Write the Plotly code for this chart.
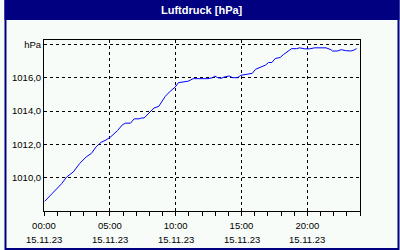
import plotly.graph_objects as go

# time in hours since 15.11.23 00:00
hours = [0.05, 0.35, 0.60, 0.97, 1.34, 1.72, 2.22, 2.71, 3.21, 3.59, 3.96, 4.33, 4.71,
         5.08, 5.58, 5.95, 6.20, 6.57, 6.85, 7.22, 7.40, 7.60, 7.84, 8.09, 8.35, 8.72,
         8.97, 9.21, 9.59, 9.96, 10.21, 10.71, 10.96, 11.33, 12.08, 12.45, 12.83, 12.95,
         13.20, 13.45, 13.69, 14.07, 14.32, 14.70, 14.94, 15.32, 15.82, 16.06, 16.44,
         16.81, 17.06, 17.31, 17.56, 17.93, 18.18, 18.48, 18.68, 18.80, 19.18, 19.42,
         19.80, 20.17, 20.55, 21.42, 21.79, 21.91, 22.29, 22.58, 22.91, 23.29, 23.53, 23.74]
pressure = [1008.58, 1008.82, 1009.03, 1009.29, 1009.64, 1010.04, 1010.34, 1010.85,
            1011.25, 1011.45, 1011.85, 1012.12, 1012.26, 1012.46, 1012.82, 1013.17,
            1013.27, 1013.27, 1013.53, 1013.53, 1013.58, 1013.58, 1013.78, 1014.02,
            1014.18, 1014.28, 1014.58, 1014.88, 1015.19, 1015.43, 1015.70, 1015.73,
            1015.79, 1015.94, 1015.94, 1015.94, 1016.00, 1016.10, 1016.00, 1015.96,
            1016.04, 1016.10, 1016.00, 1016.00, 1016.14, 1016.20, 1016.26, 1016.50,
            1016.61, 1016.75, 1016.91, 1016.91, 1017.15, 1017.21, 1017.38, 1017.57,
            1017.71, 1017.74, 1017.74, 1017.79, 1017.73, 1017.73, 1017.79, 1017.79,
            1017.68, 1017.60, 1017.60, 1017.68, 1017.62, 1017.60, 1017.65, 1017.74]

x_tickvals = [0, 5, 10, 15, 20]
x_time = ["00:00", "05:00", "10:00", "15:00", "20:00"]
x_date = ["15.11.23"] * 5
y_tickvals = [1010, 1012, 1014, 1016, 1018]
y_ticktext = ["1010,0", "1012,0", "1014,0", "1016,0", "hPa"]
title = "Luftdruck [hPa]"

NAVY = "#000080"
BG = "#F8FCF8"
W, H = 400, 250
L, R, T, B = 40, 40, 40, 39
pw, ph = W - L - R, H - T - B

def px_x(p):
    return (p - L) / pw

def px_y(p):
    return (H - B - p) / ph

FONT = "Liberation Sans, Arial, sans-serif"

fig = go.Figure()
fig.add_trace(go.Scatter(x=hours, y=pressure, mode="lines",
                         line=dict(color="#0000FF", width=1), showlegend=False))

annotations = [
    dict(text=f"<b>{title}</b>", xref="paper", yref="paper",
         x=px_x(W / 2), y=px_y(10), xanchor="center", yanchor="middle",
         showarrow=False, font=dict(color="white", size=11)),
]
for xv, d in zip(x_tickvals, x_date):
    annotations.append(dict(text=d, xref="x", yref="paper", x=xv, y=px_y(239.5),
                            xanchor="center", yanchor="middle", showarrow=False,
                            font=dict(size=9.5, color="black")))

fig.update_layout(
    width=W, height=H,
    margin=dict(l=L, r=R, t=T, b=B),
    paper_bgcolor=BG, plot_bgcolor=BG,
    font=dict(family=FONT, color="black", size=9),
    xaxis=dict(range=[0, 24], tickvals=x_tickvals, ticktext=x_time,
               ticks="outside", ticklen=4, tickcolor="black", tickwidth=1,
               minor=dict(dtick=1, tick0=0, ticks="outside", ticklen=4, tickcolor="black", showgrid=False),
               showgrid=True, gridcolor="black", gridwidth=1, griddash="3px,3px",
               showline=True, linecolor="black", linewidth=1, mirror=True,
               zeroline=False, tickfont=dict(size=9.5), tickangle=0,
               ticklabelstandoff=2),
    yaxis=dict(range=[1008, 1018.26], tickvals=y_tickvals, ticktext=y_ticktext,
               ticks="", showgrid=True, gridcolor="black", gridwidth=1, griddash="3px,3px",
               showline=True, linecolor="black", linewidth=1, mirror=True,
               zeroline=False, tickfont=dict(size=9.5)),
    shapes=[
        dict(type="rect", xref="paper", yref="paper", layer="above",
             x0=px_x(0), x1=px_x(W), y0=px_y(0), y1=px_y(20),
             fillcolor=NAVY, line=dict(width=0)),
        dict(type="rect", xref="paper", yref="paper", layer="above",
             x0=px_x(1), x1=px_x(W - 1), y0=px_y(1), y1=px_y(H - 1),
             fillcolor="rgba(0,0,0,0)", line=dict(color=NAVY, width=2)),
    ],
    annotations=annotations,
)

fig.write_html("out.html")
